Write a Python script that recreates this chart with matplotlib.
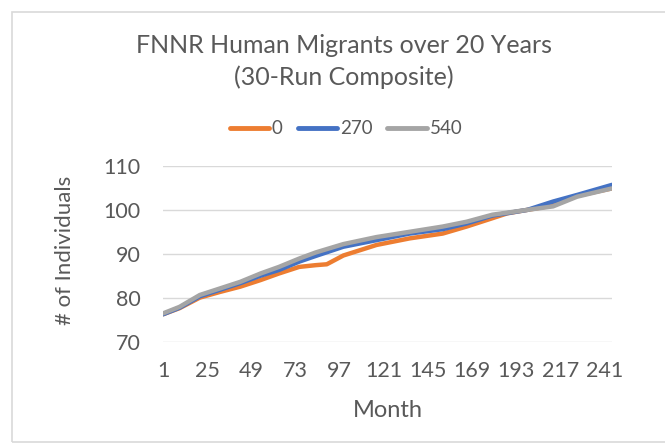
import matplotlib
matplotlib.use('Agg')
from matplotlib import pyplot as plt
from matplotlib.patches import Rectangle
import numpy as np

plt.rcParams['font.family'] = ['Lato', 'DejaVu Sans']

# values (month, # of individuals)
months_0 = [1, 10, 21, 32, 43, 54, 64, 75, 84, 90, 99, 117, 135, 153,
            166, 180, 188, 199, 213, 226, 245]
vals_0 = [76.2, 77.6, 80.0, 81.3, 82.5, 84.0, 85.5, 87.0, 87.4, 87.6, 89.6,
          92.0, 93.5, 94.6, 96.2, 98.1, 99.2, 100.0, 101.0, 103.2, 104.9]

months_270 = [1, 10, 21, 32, 43, 54, 64, 75, 84, 99, 117, 135, 153, 166,
              180, 199, 213, 226, 245]
vals_270 = [76.2, 77.7, 80.3, 81.8, 83.3, 85.0, 86.3, 88.2, 89.5, 91.6,
            93.1, 94.6, 95.6, 96.9, 98.7, 100.0, 101.9, 103.4, 105.7]

months_540 = [1, 10, 21, 32, 43, 54, 64, 75, 84, 99, 117, 135, 153, 166,
              180, 199, 213, 226, 245]
vals_540 = [76.4, 77.9, 80.6, 82.1, 83.6, 85.5, 87.0, 88.9, 90.3, 92.2,
            93.8, 95.0, 96.2, 97.3, 98.9, 100.0, 100.8, 103.0, 104.9]

series = [('0', months_0, vals_0, '#ED7D31'),
          ('270', months_270, vals_270, '#4472C4'),
          ('540', months_540, vals_540, '#A5A5A5')]

xticks = list(range(1, 242, 24))
yticks = [70, 80, 90, 100, 110]

txt = '#595959'
W, H = 665, 443

fig = plt.figure(figsize=(W/100, H/100), dpi=100)
# light chart-area border
fig.patches.append(Rectangle((11.5/W, 1-441.5/H), 1.0, (441.5-11.5)/H,
                             transform=fig.transFigure, fill=False,
                             edgecolor='#d9d9d9', linewidth=1.2))
ax = fig.add_axes([163/W, 1-341.5/H, (612-163)/W, (341.5-166)/H])

for name, m, v, c in series:
    ax.plot(m, v, color=c, linewidth=3.2, label=name, solid_capstyle='round')

ax.set_xlim(1, 245)
ax.set_ylim(70, 110)
ax.set_xticks(xticks)
ax.set_yticks(yticks)
ax.tick_params(length=0, labelsize=15.5, labelcolor=txt)
ax.tick_params(axis='x', pad=14)
ax.tick_params(axis='y', pad=16)
ax.grid(axis='y', color='#d9d9d9', linewidth=1)
ax.set_axisbelow(True)
for s in ax.spines.values():
    s.set_visible(False)

fig.text(387.5/W, 1-417/H, 'Month', ha='center', va='baseline',
         fontsize=17, color=txt)
fig.text(65/W, 1-250/H, '# of Individuals', ha='center', va='center',
         rotation=90, fontsize=16, color=txt)

fig.text(343.5/W, 1-53/H, 'FNNR Human Migrants over 20 Years', ha='center',
         va='baseline', fontsize=18, color=txt)
fig.text(343.5/W, 1-85/H, '(30-Run Composite)', ha='center', va='baseline',
         fontsize=18, color=txt)

leg = fig.legend(loc='center', bbox_to_anchor=(346/W, 1-129/H), ncol=3,
                 frameon=False, fontsize=13.5, handlelength=2.1,
                 handletextpad=0.15, columnspacing=0.8, labelcolor=txt)
for line in leg.get_lines():
    line.set_linewidth(3.5)

fig.savefig('out.png', dpi=100)
